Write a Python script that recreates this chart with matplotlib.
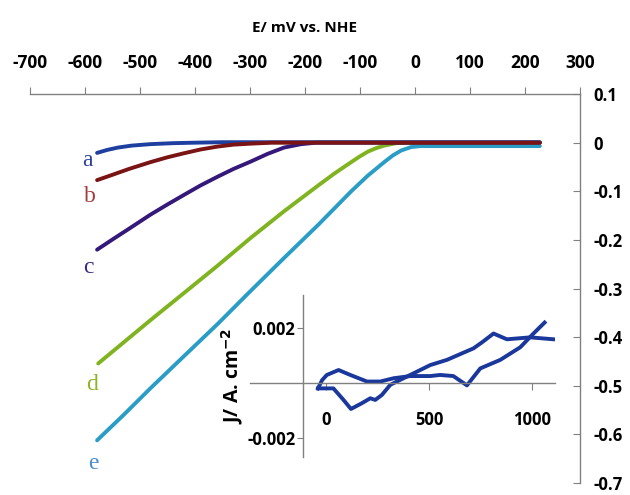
import matplotlib.pyplot as plt

# main polarisation curves (E in mV vs NHE, J in A/cm2)
a_E = [-578, -560, -540, -515, -481, -440, -400, -350, 227]
a_J = [-0.021, -0.015, -0.010, -0.006, -0.003, -0.001, 0.0, 0.001, 0.001]

b_E = [-578, -550, -520, -481, -450, -421, -390, -359, -330, -299, -260, 227]
b_J = [-0.077, -0.066, -0.054, -0.040, -0.030, -0.022, -0.014, -0.008, -0.004, -0.002, 0.0, 0.0]

c_E = [-578, -550, -520, -481, -450, -421, -390, -359, -330, -299, -268, -238, -207, -180, 227]
c_J = [-0.220, -0.199, -0.177, -0.148, -0.127, -0.108, -0.088, -0.070, -0.054, -0.039, -0.023,
       -0.010, -0.003, 0.0, 0.0]

d_E = [-576, -481, -421, -359, -299, -238, -176, -146, -116, -100, -85, -70, -56, -34, -15, 227]
d_J = [-0.454, -0.365, -0.310, -0.253, -0.196, -0.141, -0.088, -0.063, -0.040, -0.028, -0.018,
       -0.011, -0.006, -0.001, 0.0, 0.0]

e_E = [-578, -530, -481, -421, -359, -299, -238, -176, -116, -86, -56, -40, -25, -7, 10, 227]
e_J = [-0.612, -0.560, -0.505, -0.440, -0.373, -0.305, -0.237, -0.169, -0.100, -0.068, -0.040,
       -0.026, -0.016, -0.009, -0.007, -0.007]

series_names = ['a', 'b', 'c', 'd', 'e']
label_E = [-595, -591, -593, -587, -585]
label_J = [-0.037, -0.110, -0.257, -0.497, -0.660]

x_ticks = [-700, -600, -500, -400, -300, -200, -100, 0, 100, 200, 300]
y_ticks = [0.1, 0, -0.1, -0.2, -0.3, -0.4, -0.5, -0.6, -0.7]
y_ticklabels = ['0.1', '0', '-0.1', '-0.2', '-0.3', '-0.4', '-0.5', '-0.6', '-0.7']

# inset cyclic voltammogram
cv1_E = [-40, 35, 84, 120, 173, 214, 238, 270, 311, 359, 424, 505, 586, 715, 760, 812, 877, 990, 1103]
cv1_J = [-0.0002, -0.0002, -0.00062, -0.00095, -0.00074, -0.00056, -0.00062, -0.00044, -0.00007,
         0.00011, 0.00035, 0.00065, 0.00084, 0.00126, 0.0015, 0.0018, 0.00159, 0.00166, 0.00159]
cv2_E = [-40, -20, 3, 60, 117, 198, 262, 327, 408, 505, 553, 617, 683, 748, 845, 942, 1006, 1060]
cv2_J = [-0.0002, 0.0001, 0.00029, 0.00047, 0.00029, 0.00005, 0.00005, 0.00017, 0.00025, 0.00025,
         0.00029, 0.00025, -0.00009, 0.00053, 0.00084, 0.0013, 0.0018, 0.0022]

line_colors = ['#1f3fa0', '#7a1414', '#35197a', '#80b320', '#2a9dc6']
text_colors = ['#2c3f9e', '#a33c3c', '#3c2a82', '#8db52a', '#4a8fd0']
gray = '#808080'

plt.rcParams['font.family'] = ['Open Sans', 'DejaVu Sans']

fig = plt.figure(figsize=(6.3, 4.95), dpi=100)
ax = fig.add_axes([0.0476, 0.024, 0.873, 0.786])

curves = {'a': (a_E, a_J), 'b': (b_E, b_J), 'c': (c_E, c_J), 'd': (d_E, d_J), 'e': (e_E, e_J)}
for name in ['e', 'd', 'c', 'a', 'b']:
    i = series_names.index(name)
    E, J = curves[name]
    ax.plot(E, J, color=line_colors[i], lw=2.8, solid_capstyle='round', solid_joinstyle='round')

for i, name in enumerate(series_names):
    ax.text(label_E[i], label_J[i], name, color=text_colors[i], fontsize=17,
            family='Liberation Serif', ha='center', va='center')

ax.set_xlim(-700, 300)
ax.set_ylim(-0.7, 0.1)
ax.spines['left'].set_visible(False)
ax.spines['bottom'].set_visible(False)
for s in ['top', 'right']:
    ax.spines[s].set_color(gray)
    ax.spines[s].set_linewidth(1.0)

ax.xaxis.tick_top()
ax.xaxis.set_label_position('top')
ax.set_xticks(x_ticks)
ax.set_xticklabels([str(v) for v in x_ticks])
ax.tick_params(axis='x', direction='out', length=5, color=gray, pad=11,
               labelsize=12.5)
ax.set_xlabel('E/ mV vs. NHE', fontsize=11, fontweight='bold', labelpad=16)

ax.yaxis.tick_right()
ax.set_yticks(y_ticks)
ax.set_yticklabels(y_ticklabels)
ax.tick_params(axis='y', direction='in', length=5, color=gray, pad=10,
               labelsize=12)
for lab in ax.get_xticklabels() + ax.get_yticklabels():
    lab.set_fontweight('bold')

# inset
ins = fig.add_axes([0.3968, 0.0768, 0.484, 0.327])
ins.patch.set_alpha(0)
ins.plot(cv1_E, cv1_J, color='#1a389c', lw=2.8, solid_joinstyle='round')
ins.plot(cv2_E, cv2_J, color='#1a389c', lw=2.8, solid_joinstyle='round')
ins.set_xlim(-370, 1110)
ins.set_ylim(-0.0027, 0.0032)
ins.spines['top'].set_visible(False)
ins.spines['right'].set_visible(False)
ins.spines['left'].set_position(('data', -115))
ins.spines['bottom'].set_position(('data', 0))
for s in ['left', 'bottom']:
    ins.spines[s].set_color(gray)
    ins.spines[s].set_linewidth(1.0)
ins.set_xticks([0, 500, 1000])
ins.set_xticklabels(['0', '500', '1000'])
ins.set_yticks([-0.002, 0.002])
ins.set_yticklabels(['-0.002', '0.002'])
ins.tick_params(axis='x', direction='out', length=5, color=gray, pad=15, labelsize=12)
ins.tick_params(axis='y', direction='out', length=4, color=gray, pad=1, labelsize=12)
for lab in ins.get_xticklabels() + ins.get_yticklabels():
    lab.set_fontweight('bold')
ins.set_ylabel('J/ A. cm$^{\\mathbf{-2}}$', fontsize=14, fontweight='bold', labelpad=2)

fig.savefig('out.png', dpi=100)
